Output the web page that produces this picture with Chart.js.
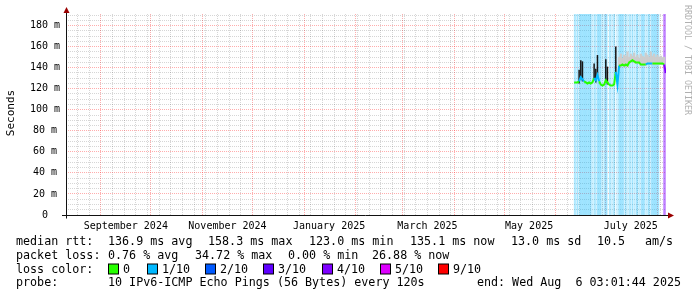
<!DOCTYPE html>
<html><head><meta charset="utf-8">
<script src="https://cdn.jsdelivr.net/npm/chart.js@4/dist/chart.umd.min.js"></script>
<style>html,body{margin:0;padding:0;background:#fff;}#wrap{width:697px;height:297px;position:relative;}</style>
</head><body><div id="wrap"><canvas id="c" width="697" height="297"></canvas></div>
<script>
const DAY = 864e5;
const endTime = Date.UTC(2025, 7, 6, 3, 1, 44);
const rangeDays = 360;
const startTime = endTime - rangeDays * DAY;
const dataStart = Date.UTC(2025, 5, 12);

// daily median RTT (ms), from 2025-06-12
const medianRtt = [126,126,126,127,131,129,127,126,125,126,125,126,130,128,133,127,124,123,124,128,126,124,123,123,124,136,124,142,142,143,142,143,142,145,146,147,146,145,145,145,143,143,143,143,144,144,144,144,144,144,144,144,144,144,143,135];
// loss level (tenths) for the colour of the median line, daily
const medianLoss = [0,0,0,1,1,1,0,0,0,0,0,0,1,1,1,0,0,0,0,0,0,0,0,0,0,1,1,0,0,0,0,0,0,0,0,0,0,0,0,0,0,0,0,1,1,1,1,0,0,0,0,0,0,0,4,4];
// upper edge of the grey smoke (ms), daily
const smokeHigh = [null,null,null,null,null,null,null,null,null,null,null,null,null,null,null,null,null,null,null,null,null,null,null,null,null,null,null,150,153,149,152,151,155,150,153,151,154,150,152,149,153,151,150,154,152,150,155,151,153,150,152,150,151,149,150,null];
// dark smoke spikes top (ms), daily
const darkHigh = [null,null,null,138,147,146,null,null,null,null,null,null,144,139,152,null,null,null,null,148,141,null,null,null,null,160,null,null,null,null,null,null,null,null,null,null,null,null,null,null,null,null,null,null,null,null,null,null,null,null,null,null,null,null,null,null];
// packet loss level (tenths) per half day, from 2025-06-12
const lossHalfDay = [1,1,0,1,1,0,1,1,1,1, 1,1,1,1,1,1,1,1,1,1, 1,0,1,0,1,1,0,1,1,1, 1,1,1,0,1,0,1,1,1,1, 0,0,1,1,0,1,0,1,1,0, 0,1,0,1,1,1,1,1,1,1, 0,1,1,0,1,0,1,1,0,1, 1,0,1,0,1,1,1,0,1,0, 1,1,1,1,1,0,1,0,1,1, 1,0,1,1,1,1,1,1,1,1, 1,1,0,0,0,0,0,4,4,4];

const xLabelMonths = [[2024,8],[2024,10],[2025,0],[2025,2],[2025,4],[2025,6]];
const xLabelTexts = ['September 2024','November 2024','January 2025','March 2025','May 2025','July 2025'];
const yMax = 191, yMinorStep = 5, yLabelStep = 20;

const statRtt = ['136.9 ms avg','158.3 ms max','123.0 ms min','135.1 ms now','13.0 ms sd','10.5','am/s'];
const statLoss = ['0.76 % avg','34.72 % max','0.00 % min','26.88 % now'];
const lossKeys = [0,1,2,3,4,5,9];
const lossKeyLabels = ['0','1/10','2/10','3/10','4/10','5/10','9/10'];
const lossColors = {0:'#26ff00',1:'#00b8ff',2:'#0059ff',3:'#5e00ff',4:'#7e00ff',5:'#dd00ff',9:'#ff0000'};
const lossFill = {1:'rgba(0,184,255,0.24)',2:'rgba(0,89,255,0.28)',3:'rgba(94,0,255,0.3)',4:'rgba(126,0,255,0.32)',5:'rgba(221,0,255,0.3)',9:'rgba(255,0,0,0.3)'};
const probeText = '10 IPv6-ICMP Echo Pings (56 Bytes) every 120s';
const endText = 'end: Wed Aug  6 03:01:44 2025';

const medianData = medianRtt.map((v,i)=>({x: dataStart + i*DAY, y: v}));
const smokeData = [];
smokeHigh.forEach((v,i)=>{ if (v!=null) smokeData.push({x: dataStart + i*DAY, y:[medianRtt[i]-1, v]}); });
const darkData = [];
darkHigh.forEach((v,i)=>{ if (v!=null) darkData.push({x: dataStart + i*DAY, y:[medianRtt[i]-2, v]}); });
const lossData = [];
lossHalfDay.forEach((l,j)=>{ if (l>0) lossData.push({x: dataStart + (j*0.5+0.25)*DAY, y:1, l:l}); });

function buildXTicks(){
  const t = [];
  const months = new Set();
  let y=2024, m=7;
  while (true) {
    const v = Date.UTC(y,m,1);
    if (v > endTime) break;
    if (v >= startTime) { t.push({value:v, kind:'m'}); months.add(v); }
    m++; if (m>11){m=0;y++;}
  }
  let w = Date.UTC(2024,7,18);
  while (w < endTime) { if (w > startTime && !months.has(w)) t.push({value:w, kind:'w'}); w += 7*DAY; }
  xLabelMonths.forEach((ym,k)=>{ t.push({value: Date.UTC(ym[0],ym[1],1) + 15*DAY, kind:'l', text: xLabelTexts[k]}); });
  t.sort((a,b)=>a.value-b.value);
  return t;
}
function buildYTicks(){
  const t=[];
  for (let v=0; v<=yMax; v+=yMinorStep) t.push({value:v, kind: v%yLabelStep===0 ? 'M':'n'});
  return t;
}

const MONO = '"DejaVu Sans Mono", monospace';
const RED = 'rgba(255,0,0,0.32)';
const GRAY = 'rgba(0,0,0,0.16)';

const decor = {
  id:'decor',
  beforeDraw(chart){ const c=chart.ctx; c.save(); c.fillStyle='#fff'; c.fillRect(0,0,chart.width,chart.height); c.restore(); },
  afterDraw(chart){
    const c = chart.ctx, a = chart.chartArea;
    c.save();
    c.strokeStyle='#111'; c.lineWidth=1;
    const by = Math.round(a.bottom)+0.5, lx = Math.round(a.left)+0.5;
    c.beginPath(); c.moveTo(62, by); c.lineTo(a.right+3, by); c.stroke();
    c.beginPath(); c.moveTo(lx, by+3); c.lineTo(lx, a.top-3); c.stroke();
    c.fillStyle='#9a0000';
    c.beginPath(); c.moveTo(a.right+8, by); c.lineTo(a.right+2, by-3); c.lineTo(a.right+2, by+3); c.closePath(); c.fill();
    c.beginPath(); c.moveTo(lx, a.top-7); c.lineTo(lx-3, a.top-1); c.lineTo(lx+3, a.top-1); c.closePath(); c.fill();
    c.fillStyle='#000'; c.font='11px '+MONO; c.textAlign='center'; c.textBaseline='middle';
    c.save(); c.translate(11, 113); c.rotate(-Math.PI/2); c.fillText('Seconds',0,0); c.restore();
    c.save(); c.fillStyle='#b0b0b0'; c.font='8.3px '+MONO; c.textAlign='left'; c.textBaseline='middle';
    c.translate(687, 5); c.rotate(Math.PI/2); c.fillText('RRDTOOL / TOBI OETIKER',0,0); c.restore();
    c.font='11.7px '+MONO; c.fillStyle='#000'; c.textAlign='left'; c.textBaseline='middle';
    const r1=241.5, r2=255.5, r3=269.5, r4=283;
    c.fillText('median rtt:',16,r1);
    const x1=[108,208,309,410,511,597,645];
    statRtt.forEach((s,k)=>c.fillText(s,x1[k],r1));
    c.fillText('packet loss:',16,r2);
    const x2=[108,195,288,372];
    statLoss.forEach((s,k)=>c.fillText(s,x2[k],r2));
    c.fillText('loss color:',16,r3);
    const bx=[108,147,205,263,322,380,438];
    lossKeys.forEach((k,i)=>{
      c.fillStyle=lossColors[k]; c.fillRect(bx[i]+0.5, r3-5.5, 10, 10);
      c.strokeStyle='#000'; c.strokeRect(bx[i]+0.5, r3-5.5, 10, 10);
      c.fillStyle='#000'; c.fillText(lossKeyLabels[i], bx[i]+15, r3);
    });
    c.fillText('probe:',16,r4);
    c.fillText(probeText,108,r4);
    c.textAlign='right'; c.fillText(endText,681,r4);
    c.restore();
  }
};

new Chart(document.getElementById('c'), {
  type:'line',
  data:{ datasets:[
    {type:'bar', label:'loss', xAxisID:'x', yAxisID:'yl', data:lossData, grouped:false, barPercentage:1, categoryPercentage:1, borderWidth:0,
      backgroundColor: ctx => lossFill[(ctx.raw && ctx.raw.l) || 1], order:4},
    {type:'bar', label:'smoke', xAxisID:'xs', yAxisID:'y', data:smokeData, grouped:false, barPercentage:1, categoryPercentage:1, borderWidth:0,
      backgroundColor:'#cdcdcd', order:3},
    {type:'bar', label:'dark', xAxisID:'xs', yAxisID:'y', data:darkData, grouped:false, barPercentage:0.9, categoryPercentage:1, borderWidth:0,
      backgroundColor:'#141414', order:2},
    {type:'line', label:'median', xAxisID:'x', yAxisID:'y', data:medianData, borderWidth:2, pointRadius:0, tension:0,
      borderColor:'#26ff00', segment:{borderColor: c => lossColors[medianLoss[c.p0DataIndex]]}, order:1}
  ]},
  options:{
    responsive:false, animation:false, devicePixelRatio:1,
    layout:{padding:{left:0,right:31,top:14,bottom:0}},
    plugins:{legend:{display:false}, tooltip:{enabled:false}},
    scales:{
      x:{type:'linear', min:startTime, max:endTime, offset:false, position:'bottom',
        afterBuildTicks: s => { s.ticks = buildXTicks(); },
        afterFit: s => { s.height = 82; },
        grid:{offset:false, drawTicks:false,
          color: c => (c.tick && c.tick.kind==='m') ? RED : GRAY,
          lineWidth: c => (c.tick && c.tick.kind==='l') ? 0 : 1},
        border:{display:false, dash:[1,1]},
        ticks:{autoSkip:false, maxRotation:0, minRotation:0, padding:5, color:'#000', font:{family:'DejaVu Sans Mono', size:10},
          callback:(v,i,t)=> (t[i] && t[i].text) || ''}},
      xs:{type:'linear', display:false, min:startTime, max:endTime, offset:false, grid:{offset:false}},
      y:{type:'linear', min:0, max:yMax, position:'left',
        afterBuildTicks: s => { s.ticks = buildYTicks(); },
        afterFit: s => { s.width = 66; },
        grid:{drawTicks:false, color: c => (c.tick && c.tick.kind==='M') ? RED : GRAY},
        border:{display:false, dash:[1,1]},
        ticks:{autoSkip:false, padding:6, crossAlign:'center', color:'#000', font:{family:'DejaVu Sans Mono', size:10},
          callback: v => (v % yLabelStep === 0) ? (v===0 ? '0' : v+' m') : ''}},
      yl:{type:'linear', display:false, min:0, max:1}
    }
  },
  plugins:[decor]
});
</script></body></html>
